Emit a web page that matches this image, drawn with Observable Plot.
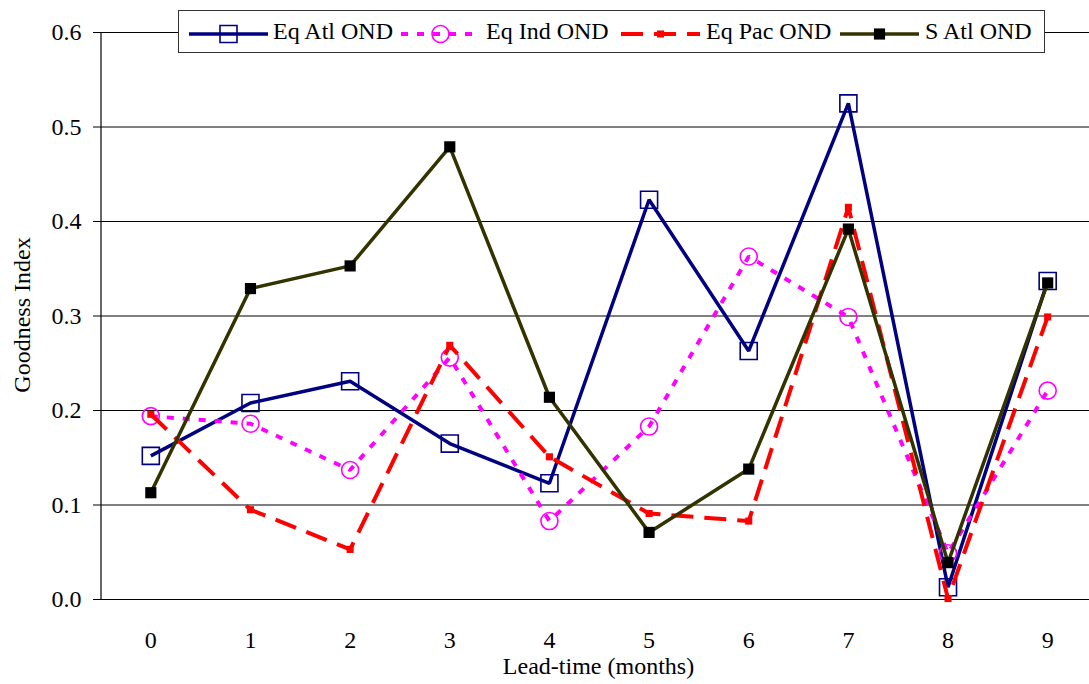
<!DOCTYPE html>
<html>
<head>
<meta charset="utf-8">
<script src="https://cdn.jsdelivr.net/npm/d3@7"></script>
<script src="https://cdn.jsdelivr.net/npm/@observablehq/plot@0.6"></script>
<style>
  body { margin: 0; background: #fff; font-family: serif; }
  #chart { position: relative; width: 1089px; height: 684px; overflow: hidden; }
  #legend { position: absolute; left: 178px; top: 10px; width: 865px; height: 41px;
            background: #fff; border: 1.5px solid #333; z-index: 2; }
  #legend svg { position: absolute; left: 0; top: 0; }
  #legend span { position: absolute; top: 2px; line-height: 36px; white-space: pre; }
  .axis-title { position: absolute; line-height: 28px; white-space: pre; z-index: 2; }
  #xtitle { left: 0; width: 1197px; text-align: center; top: 652px; }
  #ytitle { left: 22px; top: 315px; transform: translate(-50%, -50%) rotate(-90deg); }
</style>
</head>
<body>
<div id="chart">
  <div id="legend">
    <svg id="legend-samples" width="865" height="41"></svg>
    <span style="left:94px;font-family:serif;font-size:24px">Eq Atl OND</span>
    <span style="left:307px;font-family:serif;font-size:24px">Eq Ind OND</span>
    <span style="left:527px;font-family:serif;font-size:24px">Eq Pac OND</span>
    <span style="left:746px;font-family:serif;font-size:24px">S Atl OND</span>
  </div>
  <div id="xtitle" class="axis-title" style="font-family:serif;font-size:24px">Lead-time (months)</div>
  <div id="ytitle" class="axis-title" style="font-family:serif;font-size:24px">Goodness Index</div>
</div>
<script>
// Goodness index by forecast lead time, per ocean region (OND season)
const leadTimes = [0, 1, 2, 3, 4, 5, 6, 7, 8, 9];
const eqAtl = [0.152, 0.208, 0.231, 0.165, 0.123, 0.423, 0.263, 0.525, 0.013, 0.337];
const eqInd = [0.194, 0.186, 0.137, 0.256, 0.083, 0.183, 0.363, 0.299, 0.049, 0.221];
const eqPac = [0.196, 0.095, 0.053, 0.269, 0.151, 0.091, 0.083, 0.415, 0.001, 0.299];
const sAtl  = [0.113, 0.329, 0.353, 0.479, 0.214, 0.071, 0.138, 0.392, 0.039, 0.335];
const yTicks = [0, 0.1, 0.2, 0.3, 0.4, 0.5, 0.6];

const font = "serif";

// Line and marker styling for each series
const styles = [
  {color: "#000080", dash: null,    width: 3.5, symbol: "square", r: 9.6, fill: "none",    markerStroke: 1.6},
  {color: "#FF00FF", dash: "7,9",   width: 4,   symbol: "circle", r: 8.5, fill: "none",    markerStroke: 1.6},
  {color: "#FF0000", dash: "22,11", width: 4,   symbol: "square", r: 4,   fill: "#FF0000", markerStroke: 0},
  {color: "#333300", dash: null,    width: 3.5, symbol: "square", r: 6.3, fill: "#000",    markerStroke: 0}
];
const seriesValues = [eqAtl, eqInd, eqPac, sAtl];

const rows = seriesValues.map((vals) => leadTimes.map((t, i) => ({lead: t, value: vals[i]})));

const seriesMarks = rows.flatMap((data, k) => {
  const s = styles[k];
  return [
    Plot.line(data, {x: "lead", y: "value", stroke: s.color, strokeWidth: s.width,
      strokeDasharray: s.dash ?? undefined, strokeLinejoin: "miter", strokeLinecap: "butt"}),
    Plot.dot(data, {x: "lead", y: "value", symbol: s.symbol, r: s.r,
      fill: s.fill, stroke: s.markerStroke ? s.color : "none", strokeWidth: s.markerStroke})
  ];
});

const chart = Plot.plot({
  width: 1089,
  height: 684,
  marginLeft: 100,
  marginRight: 0,
  marginTop: 32,
  marginBottom: 85,
  style: {fontFamily: font, fontSize: "24px", background: "#fff", color: "#000"},
  x: {type: "linear", domain: [-0.5, 9.5], range: [100.5, 1097]},
  y: {domain: [0, 0.6], range: [599, 32]},
  marks: [
    Plot.ruleY(yTicks, {stroke: "#000", strokeWidth: 1}),
    Plot.ruleX([-0.5], {y1: 0, y2: 0.6, stroke: "#000", strokeWidth: 1.2}),
    Plot.axisY(yTicks, {tickSize: 7, tickPadding: 12, tickFormat: d3.format(".1f"),
      label: null, fontSize: 24, stroke: "#000"}),
    Plot.axisX(leadTimes, {tickSize: 0, tickPadding: 31, tickFormat: (d) => String(d),
      label: null, fontSize: 24}),
    ...seriesMarks
  ]
});
chart.setAttribute("font-family", font);
chart.querySelectorAll("text").forEach((t) => t.setAttribute("style", "font-family:serif"));

const container = document.getElementById("chart");
container.insertBefore(chart, container.firstChild);

// Line and marker samples inside the legend box
const sampleStarts = [10, 222, 442, 661];
const sampleLen = 79, sampleY = 23;
const legendSvg = d3.select("#legend-samples");
sampleStarts.forEach((start, k) => {
  const s = styles[k];
  const g = legendSvg.append("g");
  g.append("line")
    .attr("x1", start).attr("x2", start + sampleLen)
    .attr("y1", sampleY).attr("y2", sampleY)
    .attr("stroke", s.color).attr("stroke-width", s.width)
    .attr("stroke-dasharray", s.dash);
  const cx = start + sampleLen / 2;
  const sym = s.symbol === "circle" ? d3.symbolCircle : d3.symbolSquare;
  g.append("path")
    .attr("transform", `translate(${cx},${sampleY})`)
    .attr("d", d3.symbol(sym, Math.PI * s.r * s.r)())
    .attr("fill", s.fill)
    .attr("stroke", s.markerStroke ? s.color : "none")
    .attr("stroke-width", s.markerStroke);
});
</script>
</body>
</html>
